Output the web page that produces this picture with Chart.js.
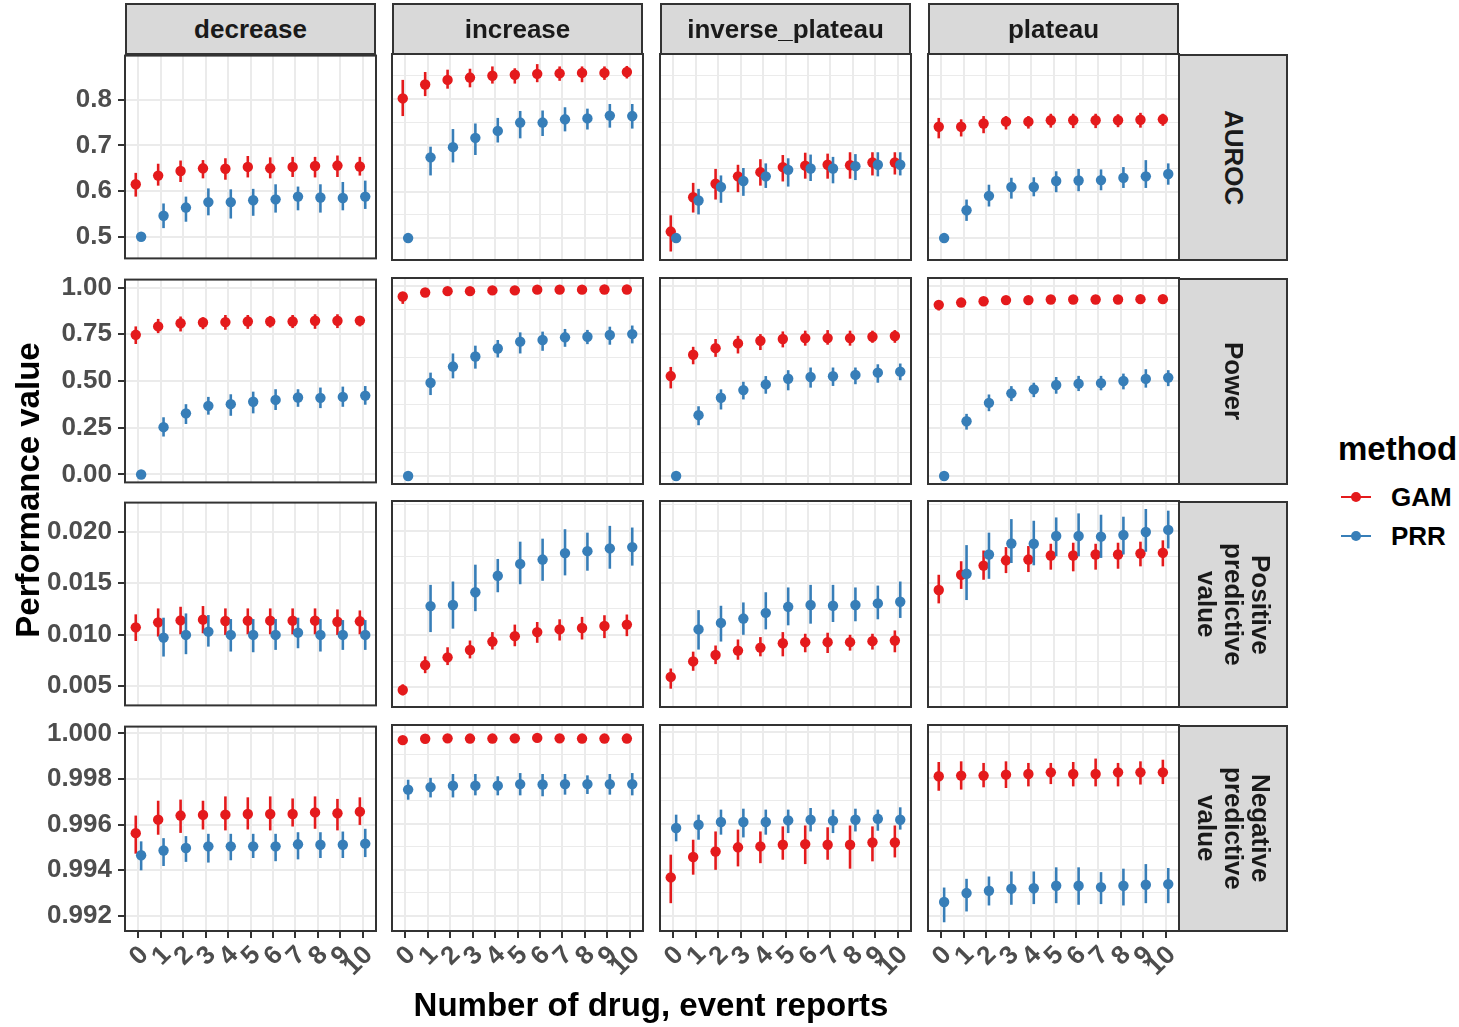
<!DOCTYPE html>
<html><head><meta charset="utf-8">
<script src="https://cdn.jsdelivr.net/npm/chart.js@4.4.1/dist/chart.umd.min.js"></script>
<style>
html,body{margin:0;padding:0;background:#fff;}
body{width:1459px;height:1027px;position:relative;overflow:hidden;font-family:"Liberation Sans",Arial,Helvetica,sans-serif;}
canvas{position:absolute;}
.strip{position:absolute;background:#D9D9D9;box-sizing:border-box;border:2px solid #333;display:flex;align-items:center;justify-content:center;font-weight:bold;font-size:26px;color:#1A1A1A;}
.vtext{writing-mode:vertical-rl;text-align:center;line-height:27px;}
.lbl{position:absolute;font-weight:bold;color:#000;white-space:nowrap;}
</style></head><body>
<script>
// ---------- data ----------
const categories = [0,1,2,3,4,5,6,7,8,9,10];
const shapes = ['decrease','increase','inverse_plateau','plateau'];
const metricNames = ['AUROC','Power','Positive\npredictive\nvalue','Negative\npredictive\nvalue'];
const methods = ['GAM','PRR'];
const methodColors = ['#E41A1C','#377EB8'];

// AUROC (rows: decrease, increase, inverse_plateau, plateau)
const aurocGAM = [
 [0.615,0.634,0.644,0.650,0.649,0.653,0.650,0.653,0.655,0.656,0.654],
 [0.801,0.831,0.841,0.846,0.850,0.852,0.854,0.855,0.856,0.856,0.858],
 [0.514,0.588,0.617,0.633,0.642,0.653,0.656,0.658,0.657,0.663,0.663],
 [0.740,0.740,0.747,0.751,0.751,0.754,0.754,0.754,0.754,0.755,0.756]];
const aurocGAMlo = [
 [0.588,0.612,0.620,0.628,0.625,0.630,0.628,0.631,0.630,0.631,0.634],
 [0.763,0.806,0.822,0.825,0.833,0.833,0.836,0.839,0.836,0.841,0.844],
 [0.471,0.555,0.583,0.599,0.613,0.622,0.628,0.628,0.628,0.635,0.637],
 [0.715,0.719,0.726,0.734,0.736,0.738,0.737,0.737,0.739,0.738,0.742]];
const aurocGAMhi = [
 [0.640,0.660,0.667,0.668,0.672,0.677,0.674,0.675,0.675,0.678,0.675],
 [0.841,0.858,0.863,0.865,0.870,0.866,0.875,0.870,0.870,0.870,0.871],
 [0.549,0.619,0.649,0.658,0.670,0.679,0.684,0.682,0.685,0.685,0.685],
 [0.759,0.756,0.763,0.763,0.763,0.768,0.768,0.768,0.767,0.770,0.768]];
const aurocPRR = [
 [0.500,0.546,0.564,0.576,0.576,0.580,0.582,0.588,0.586,0.585,0.588],
 [0.500,0.674,0.696,0.716,0.731,0.749,0.749,0.756,0.758,0.764,0.763],
 [0.500,0.581,0.610,0.623,0.633,0.647,0.650,0.650,0.655,0.658,0.658],
 [0.500,0.560,0.591,0.610,0.610,0.623,0.624,0.625,0.630,0.633,0.638]];
const aurocPRRlo = [
 [0.500,0.519,0.533,0.547,0.540,0.546,0.553,0.558,0.553,0.558,0.561],
 [0.500,0.635,0.663,0.679,0.706,0.715,0.720,0.730,0.734,0.738,0.736],
 [0.500,0.551,0.576,0.591,0.608,0.611,0.623,0.618,0.625,0.633,0.635],
 [0.500,0.537,0.568,0.585,0.590,0.599,0.601,0.603,0.608,0.608,0.615]];
const aurocPRRhi = [
 [0.500,0.573,0.588,0.606,0.604,0.605,0.615,0.610,0.615,0.620,0.623],
 [0.500,0.697,0.735,0.747,0.759,0.774,0.775,0.782,0.779,0.789,0.789],
 [0.500,0.606,0.635,0.651,0.661,0.672,0.680,0.675,0.681,0.685,0.685],
 [0.500,0.583,0.615,0.630,0.631,0.644,0.649,0.648,0.653,0.668,0.661]];

// Power
const powerGAM = [
 [0.747,0.792,0.809,0.813,0.815,0.818,0.818,0.818,0.822,0.822,0.823],
 [0.945,0.966,0.973,0.973,0.977,0.977,0.981,0.981,0.981,0.982,0.982],
 [0.526,0.638,0.673,0.698,0.712,0.721,0.726,0.726,0.726,0.733,0.737],
 [0.901,0.913,0.920,0.926,0.926,0.929,0.929,0.929,0.929,0.931,0.931]];
const powerGAMlo = [
 [0.698,0.756,0.765,0.777,0.774,0.779,0.786,0.783,0.779,0.783,0.792],
 [0.906,0.945,0.956,0.959,0.963,0.963,0.968,0.968,0.968,0.970,0.970],
 [0.461,0.588,0.627,0.645,0.663,0.677,0.686,0.691,0.686,0.701,0.701],
 [0.871,0.896,0.905,0.912,0.912,0.916,0.916,0.916,0.916,0.918,0.918]];
const powerGAMhi = [
 [0.792,0.832,0.845,0.841,0.853,0.853,0.848,0.853,0.857,0.857,0.845],
 [0.968,0.984,0.989,0.988,0.990,0.990,0.993,0.993,0.993,0.993,0.993],
 [0.574,0.680,0.721,0.738,0.747,0.761,0.765,0.768,0.765,0.765,0.768],
 [0.924,0.930,0.935,0.940,0.940,0.942,0.942,0.942,0.942,0.944,0.944]];
const powerPRR = [
 [0.000,0.253,0.327,0.367,0.376,0.389,0.399,0.412,0.410,0.415,0.422],
 [0.000,0.491,0.576,0.629,0.671,0.707,0.716,0.730,0.733,0.742,0.747],
 [0.000,0.320,0.412,0.452,0.482,0.512,0.521,0.525,0.532,0.544,0.549],
 [0.000,0.288,0.385,0.435,0.456,0.479,0.486,0.489,0.500,0.511,0.518]];
const powerPRRlo = [
 [0.000,0.203,0.270,0.320,0.314,0.327,0.345,0.362,0.355,0.362,0.373],
 [0.000,0.426,0.514,0.565,0.624,0.645,0.659,0.680,0.694,0.691,0.698],
 [0.000,0.267,0.350,0.403,0.433,0.451,0.465,0.474,0.483,0.491,0.504],
 [0.000,0.244,0.341,0.394,0.415,0.433,0.447,0.451,0.456,0.465,0.473]];
const powerPRRhi = [
 [0.000,0.306,0.376,0.415,0.429,0.443,0.456,0.456,0.465,0.470,0.473],
 [0.000,0.544,0.645,0.686,0.716,0.756,0.760,0.774,0.769,0.786,0.792],
 [0.000,0.367,0.456,0.496,0.526,0.557,0.571,0.571,0.571,0.588,0.592],
 [0.000,0.327,0.429,0.473,0.491,0.521,0.527,0.527,0.539,0.562,0.557]];

// Positive predictive value (PRR undefined at 0)
const ppvGAM = [
 [0.01070,0.01119,0.01138,0.01145,0.01132,0.01135,0.01135,0.01135,0.01135,0.01125,0.01129],
 [0.00471,0.00711,0.00785,0.00856,0.00937,0.00989,0.01028,0.01054,0.01067,0.01087,0.01100],
 [0.00597,0.00746,0.00808,0.00850,0.00879,0.00921,0.00931,0.00931,0.00931,0.00941,0.00947],
 [0.01433,0.01579,0.01667,0.01718,0.01725,0.01764,0.01764,0.01774,0.01774,0.01783,0.01790]];
const ppvGAMlo = [
 [0.00937,0.00980,0.01002,0.01012,0.00996,0.01002,0.01002,0.01002,0.01002,0.00996,0.01002],
 [0.00419,0.00633,0.00711,0.00775,0.00860,0.00892,0.00925,0.00947,0.00957,0.00970,0.00989],
 [0.00484,0.00656,0.00720,0.00762,0.00795,0.00795,0.00834,0.00827,0.00850,0.00860,0.00834],
 [0.01304,0.01443,0.01531,0.01595,0.01605,0.01628,0.01612,0.01628,0.01637,0.01660,0.01660]];
const ppvGAMhi = [
 [0.01197,0.01255,0.01271,0.01278,0.01255,0.01255,0.01255,0.01255,0.01255,0.01245,0.01235],
 [0.00526,0.00795,0.00882,0.00947,0.01028,0.01100,0.01125,0.01151,0.01174,0.01190,0.01197],
 [0.00678,0.00840,0.00899,0.00957,0.00980,0.01028,0.01012,0.01022,0.01002,0.01012,0.01044],
 [0.01579,0.01709,0.01812,0.01845,0.01855,0.01877,0.01887,0.01877,0.01887,0.01897,0.01910]];
const ppvPRR = [
 [null,0.00970,0.00996,0.01028,0.00996,0.00996,0.00996,0.01018,0.00996,0.00996,0.00996],
 [null,0.01278,0.01288,0.01411,0.01569,0.01683,0.01725,0.01787,0.01806,0.01832,0.01845],
 [null,0.01054,0.01116,0.01158,0.01213,0.01271,0.01288,0.01281,0.01288,0.01304,0.01320],
 [null,0.01589,0.01774,0.01880,0.01877,0.01952,0.01952,0.01945,0.01961,0.01990,0.02010]];
const ppvPRRlo = [
 [null,0.00785,0.00808,0.00882,0.00834,0.00827,0.00850,0.00866,0.00834,0.00850,0.00850],
 [null,0.01028,0.01061,0.01229,0.01411,0.01488,0.01521,0.01573,0.01618,0.01637,0.01667],
 [null,0.00860,0.00937,0.01002,0.01054,0.01093,0.01109,0.01125,0.01132,0.01151,0.01164],
 [null,0.01336,0.01540,0.01692,0.01670,0.01757,0.01757,0.01741,0.01774,0.01800,0.01832]];
const ppvPRRhi = [
 [null,0.01164,0.01206,0.01190,0.01151,0.01151,0.01151,0.01164,0.01151,0.01141,0.01141],
 [null,0.01482,0.01514,0.01676,0.01731,0.01897,0.01926,0.02017,0.01984,0.02049,0.02033],
 [null,0.01239,0.01281,0.01313,0.01411,0.01457,0.01482,0.01482,0.01457,0.01475,0.01514],
 [null,0.01864,0.01984,0.02114,0.02098,0.02130,0.02169,0.02156,0.02137,0.02211,0.02195]];

// Negative predictive value
const npvGAM = [
 [0.99563,0.99622,0.99640,0.99643,0.99644,0.99647,0.99647,0.99647,0.99654,0.99650,0.99657],
 [0.99964,0.99970,0.99972,0.99971,0.99971,0.99972,0.99974,0.99972,0.99971,0.99971,0.99971],
 [0.99367,0.99456,0.99480,0.99498,0.99502,0.99509,0.99512,0.99509,0.99509,0.99519,0.99519],
 [0.99807,0.99810,0.99810,0.99814,0.99817,0.99824,0.99817,0.99817,0.99824,0.99824,0.99824]];
const npvGAMlo = [
 [0.99473,0.99556,0.99564,0.99579,0.99575,0.99579,0.99575,0.99592,0.99582,0.99575,0.99599],
 [0.99947,0.99957,0.99960,0.99959,0.99959,0.99960,0.99961,0.99960,0.99955,0.99955,0.99958],
 [0.99255,0.99379,0.99400,0.99415,0.99429,0.99444,0.99425,0.99444,0.99405,0.99437,0.99454],
 [0.99744,0.99749,0.99759,0.99756,0.99763,0.99773,0.99763,0.99763,0.99763,0.99771,0.99773]];
const npvGAMhi = [
 [0.99640,0.99705,0.99710,0.99705,0.99724,0.99720,0.99724,0.99715,0.99724,0.99713,0.99720],
 [0.99978,0.99982,0.99984,0.99983,0.99983,0.99984,0.99986,0.99984,0.99984,0.99984,0.99983],
 [0.99466,0.99531,0.99567,0.99575,0.99567,0.99589,0.99593,0.99585,0.99593,0.99589,0.99593],
 [0.99869,0.99872,0.99865,0.99872,0.99865,0.99865,0.99869,0.99884,0.99865,0.99872,0.99879]];
const npvPRR = [
 [0.99466,0.99487,0.99498,0.99505,0.99505,0.99505,0.99505,0.99514,0.99512,0.99512,0.99517],
 [0.99749,0.99760,0.99766,0.99766,0.99766,0.99773,0.99771,0.99773,0.99773,0.99773,0.99773],
 [0.99582,0.99596,0.99608,0.99608,0.99608,0.99615,0.99618,0.99614,0.99618,0.99622,0.99618],
 [0.99260,0.99299,0.99309,0.99318,0.99320,0.99331,0.99331,0.99325,0.99331,0.99335,0.99338]];
const npvPRRlo = [
 [0.99400,0.99419,0.99437,0.99434,0.99444,0.99454,0.99440,0.99448,0.99454,0.99454,0.99458],
 [0.99705,0.99715,0.99715,0.99724,0.99724,0.99724,0.99720,0.99727,0.99730,0.99727,0.99724],
 [0.99524,0.99531,0.99553,0.99541,0.99553,0.99560,0.99567,0.99560,0.99567,0.99570,0.99575],
 [0.99172,0.99219,0.99245,0.99248,0.99251,0.99255,0.99248,0.99251,0.99245,0.99255,0.99255]];
const npvPRRhi = [
 [0.99527,0.99541,0.99550,0.99560,0.99560,0.99560,0.99560,0.99567,0.99567,0.99570,0.99582],
 [0.99792,0.99800,0.99817,0.99817,0.99807,0.99821,0.99817,0.99817,0.99811,0.99817,0.99821],
 [0.99640,0.99640,0.99662,0.99666,0.99662,0.99662,0.99669,0.99662,0.99666,0.99662,0.99672],
 [0.99323,0.99361,0.99371,0.99393,0.99393,0.99411,0.99411,0.99390,0.99405,0.99425,0.99408]];

// axis ranges & ticks per metric row
const yMin = [0.4527, -0.0423, 0.00308, 0.99134];
const yMax = [0.8968, 1.0423, 0.02288, 1.0003];
const yMajor = [[0.5,0.6,0.7,0.8],[0,0.25,0.5,0.75,1],[0.005,0.010,0.015,0.020],[0.992,0.994,0.996,0.998,1.000]];
const yMinor = [[0.55,0.65,0.75,0.85],[0.125,0.375,0.625,0.875],[0.0075,0.0125,0.0175,0.0225],[0.993,0.995,0.997,0.999]];
const yDecimals = [1,2,3,3];
const xMin = -0.6, xMax = 10.6;
const dodge = [-0.12, 0.12];

// table built from the arrays
const tables = [
  {mean:[aurocGAM,aurocPRR], lo:[aurocGAMlo,aurocPRRlo], hi:[aurocGAMhi,aurocPRRhi]},
  {mean:[powerGAM,powerPRR], lo:[powerGAMlo,powerPRRlo], hi:[powerGAMhi,powerPRRhi]},
  {mean:[ppvGAM,ppvPRR], lo:[ppvGAMlo,ppvPRRlo], hi:[ppvGAMhi,ppvPRRhi]},
  {mean:[npvGAM,npvPRR], lo:[npvGAMlo,npvPRRlo], hi:[npvGAMhi,npvPRRhi]}
];

// ---------- layout ----------
const FONT = '"Liberation Sans", Arial, Helvetica, sans-serif';
Chart.defaults.font.family = FONT;
const panelLeft = [125, 392, 660, 928];
const panelTop = [54, 278, 501, 725];
const PW = 251, PH = 206;

const errorBars = {
  id: 'errorBars',
  beforeDatasetDraw(chart, args) {
    const ds = chart.data.datasets[args.index];
    const ctx = chart.ctx, xs = chart.scales.x, ys = chart.scales.y;
    ctx.save();
    ctx.strokeStyle = ds.borderColor;
    ctx.lineWidth = 2.6;
    ds.data.forEach(p => {
      if (p.lo == null || p.lo === p.hi) return;
      const px = xs.getPixelForValue(p.x);
      ctx.beginPath();
      ctx.moveTo(px, ys.getPixelForValue(p.lo));
      ctx.lineTo(px, ys.getPixelForValue(p.hi));
      ctx.stroke();
    });
    ctx.restore();
  }
};
const panelBorder = {
  id: 'panelBorder',
  afterDraw(chart) {
    const a = chart.chartArea, ctx = chart.ctx;
    ctx.save();
    ctx.strokeStyle = '#333333';
    ctx.lineWidth = 2;
    ctx.strokeRect(a.left, a.top, a.right - a.left, a.bottom - a.top);
    ctx.restore();
  }
};

function addDiv(cls, left, top, w, h, html, extra) {
  const d = document.createElement('div');
  d.className = cls;
  d.style.left = left + 'px'; d.style.top = top + 'px';
  if (w != null) d.style.width = w + 'px';
  if (h != null) d.style.height = h + 'px';
  d.innerHTML = html;
  if (extra) Object.assign(d.style, extra);
  document.body.appendChild(d);
  return d;
}

for (let r = 0; r < 4; r++) {
  for (let c = 0; c < 4; c++) {
    const padL = c === 0 ? 125 : 6;
    const padR = 22;
    const padT = 20;
    const padB = r === 3 ? 95 : 20;
    const cv = document.createElement('canvas');
    const W = padL + PW + padR, H = padT + PH + padB;
    cv.width = W; cv.height = H;
    cv.style.width = W + 'px'; cv.style.height = H + 'px';
    cv.style.left = (panelLeft[c] - padL) + 'px';
    cv.style.top = (panelTop[r] - padT) + 'px';
    document.body.appendChild(cv);

    const t = tables[r];
    const datasets = methods.map((m, k) => ({
      label: m,
      order: k === 1 ? 0 : 1,
      data: categories.map((cat, i) => ({
        x: cat + dodge[k], y: t.mean[k][c][i], lo: t.lo[k][c][i], hi: t.hi[k][c][i]
      })).filter(p => p.y !== null),
      backgroundColor: methodColors[k],
      borderColor: methodColors[k],
      pointRadius: 5.2, pointHoverRadius: 5.2, pointBorderWidth: 0,
      showLine: false
    }));
    const yTicks = yMajor[r].map(v => ({value: v, mj: true}))
      .concat(yMinor[r].map(v => ({value: v, mj: false})))
      .sort((a, b) => a.value - b.value);

    new Chart(cv, {
      type: 'scatter',
      data: {datasets},
      options: {
        responsive: false, animation: false, devicePixelRatio: 1,
        layout: {padding: {top: padT, right: padR, left: 0, bottom: 0}},
        plugins: {legend: {display: false}, tooltip: {enabled: false}},
        scales: {
          x: {
            type: 'linear', min: xMin, max: xMax,
            afterBuildTicks: sc => { sc.ticks = categories.map(v => ({value: v})); },
            afterFit: sc => { sc.height = padB; },
            border: {display: false},
            grid: {color: '#EBEBEB', lineWidth: 2, drawTicks: r === 3, tickLength: 7, tickColor: '#333333', tickWidth: 2},
            ticks: {display: r === 3, autoSkip: false, minRotation: 45, maxRotation: 45, padding: 2, labelOffset: 6,
                    color: '#4D4D4D', font: {size: 26, weight: 'bold', family: FONT},
                    callback: v => String(v)}
          },
          y: {
            type: 'linear', min: yMin[r], max: yMax[r],
            afterBuildTicks: sc => { sc.ticks = yTicks.map(o => ({value: o.value, mj: o.mj})); },
            afterFit: sc => { sc.width = padL; },
            border: {display: false},
            grid: {
              color: '#EBEBEB',
              lineWidth: ctx => (ctx.tick && ctx.tick.mj) ? 2 : 1,
              drawTicks: c === 0, tickLength: 7,
              tickColor: ctx => (ctx.tick && ctx.tick.mj) ? '#333333' : 'rgba(0,0,0,0)',
              tickWidth: 2
            },
            ticks: {display: c === 0, padding: 6, color: '#4D4D4D',
                    font: {size: 26, weight: 'bold', family: FONT},
                    callback: (v, i, ticks) => ticks[i].mj ? Number(v).toFixed(yDecimals[r]) : ''}
          }
        }
      },
      plugins: [errorBars, panelBorder]
    });
  }
}

// strips
for (let c = 0; c < 4; c++) {
  addDiv('strip', panelLeft[c], 3, PW, 52, shapes[c]);
}
for (let r = 0; r < 4; r++) {
  addDiv('strip', panelLeft[3] + PW - 1, panelTop[r], 110, PH + 1,
         '<div class="vtext">' + metricNames[r].replace(/\n/g, '<br>') + '</div>');
}

// axis titles
addDiv('lbl', 651 - 300, 986, 600, null, 'Number of drug, event reports',
       {fontSize: '33px', textAlign: 'center', lineHeight: '38px'});
addDiv('lbl', 28 - 200, 490 - 19, 400, 38, 'Performance value',
       {fontSize: '33px', textAlign: 'center', lineHeight: '38px', transform: 'rotate(-90deg)'});

// legend
addDiv('lbl', 1338, 430, null, null, 'method', {fontSize: '33px', lineHeight: '38px'});
methods.forEach((m, k) => {
  const cy = 497 + k * 39;
  addDiv('lbl', 1341, cy - 1.3, 30, 2.6, '', {background: methodColors[k]});
  addDiv('lbl', 1351, cy - 5.2, 10.4, 10.4, '', {background: methodColors[k], borderRadius: '50%'});
  addDiv('lbl', 1391, cy - 15, null, 30, m, {fontSize: '26px', lineHeight: '30px'});
});
</script>
</body></html>
